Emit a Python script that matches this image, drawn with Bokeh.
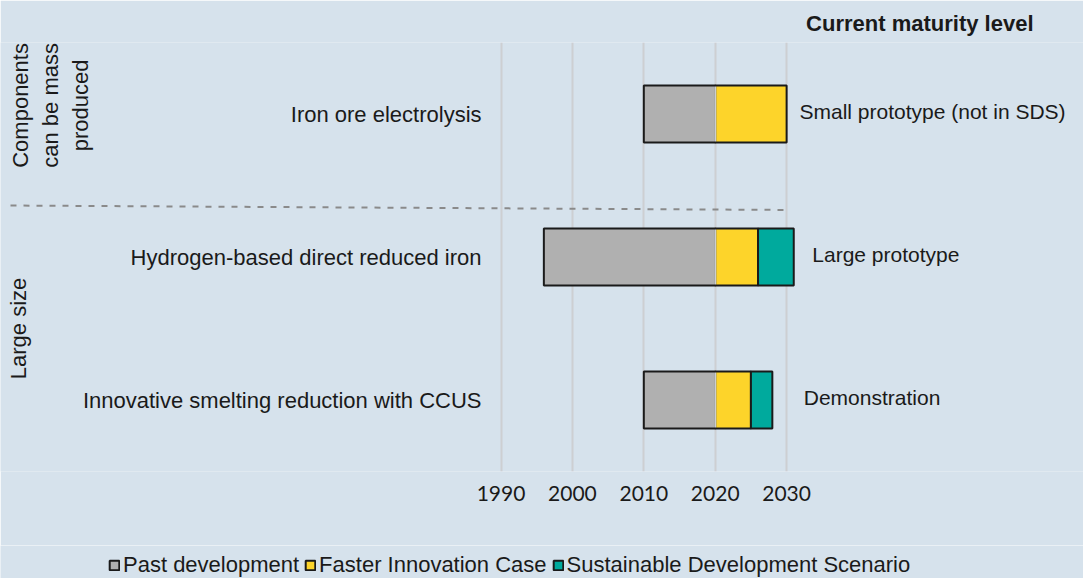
import math
from bokeh.plotting import figure
from bokeh.layouts import column
from bokeh.models import Range1d, FixedTicker, Legend, LegendItem, ColumnDataSource
from bokeh.core.properties import value
from bokeh.embed import file_html
from bokeh.resources import INLINE

# ---------------- data ----------------
technologies = ["Iron ore electrolysis",
                "Hydrogen-based direct reduced iron",
                "Innovative smelting reduction with CCUS"]
maturity = ["Small  prototype (not in SDS)", "Large prototype", "Demonstration"]
past_start = [2010, 1996, 2010]
past_end = [2020, 2020, 2020]
fic_end = [2030, 2026, 2025]
sds_end = [None, 2031, 2028]
year_ticks = [1990, 2000, 2010, 2020, 2030]
group_labels = ["Components\ncan be mass\nproduced", "Large size"]
series_names = ["Past development", "Faster Innovation Case", "Sustainable Development Scenario"]
title_text = "Current maturity level"

# ---------------- style ----------------
BG = "#d6e2ec"
GRID = "#cdcfd2"
GRAY = "#b0b0b0"
YELLOW = "#fdd42a"
TEAL = "#00aa9d"
EDGE = "#1a1a1a"
TXT = "#1a1a1a"
FONT = "Liberation Sans"

W = 1083
H_MAIN, H_LEG = 545, 33
X_MIN, X_MAX = 1919.90, 2071.58
p = figure(width=W, height=H_MAIN, output_backend="svg", toolbar_location=None,
           x_range=Range1d(X_MIN, X_MAX), y_range=Range1d(-0.5, 2.5),
           min_border_left=0, min_border_right=0, min_border_top=42,
           min_border_bottom=74, y_axis_location=None)
p.background_fill_color = BG
p.border_fill_color = BG
p.outline_line_color = None

p.title.text = title_text
p.title.align = "right"
p.title.offset = 50
p.title.standoff = 13
p.title.text_font = FONT
p.title.text_font_size = "22px"
p.title.text_font_style = "bold"
p.title.text_color = TXT

p.ygrid.visible = False
p.xgrid.ticker = FixedTicker(ticks=year_ticks)
p.xgrid.grid_line_color = GRID
p.xgrid.grid_line_width = 2

ax = p.xaxis[0]
ax.ticker = FixedTicker(ticks=year_ticks)
ax.axis_line_color = None
ax.major_tick_line_color = None
ax.minor_tick_line_color = None
ax.major_tick_out = 0
ax.major_tick_in = 0
ax.major_label_standoff = 14
ax.major_label_text_font = "Lato"
ax.major_label_text_font_size = "21px"
ax.major_label_text_color = TXT

n = len(technologies)
ypos = list(range(n))[::-1]
BAR_H = 0.4

src = ColumnDataSource(dict(y=ypos, past_start=past_start, past_end=past_end, fic_end=fic_end))
idx = [i for i in range(n) if sds_end[i] is not None]
src_sds = ColumnDataSource(dict(y=[ypos[i] for i in idx],
                                left=[fic_end[i] for i in idx],
                                right=[sds_end[i] for i in idx]))
bar_styles = dict(line_color=EDGE, line_width=2)


def draw_bars(fig, visible=True):
    r1 = fig.hbar(y="y", left="past_start", right="past_end", height=BAR_H, source=src,
                  fill_color=GRAY, visible=visible, **bar_styles)
    r2 = fig.hbar(y="y", left="past_end", right="fic_end", height=BAR_H, source=src,
                  fill_color=YELLOW, visible=visible, **bar_styles)
    r3 = fig.hbar(y="y", left="left", right="right", height=BAR_H, source=src_sds,
                  fill_color=TEAL, visible=visible, **bar_styles)
    return [r1, r2, r3]


draw_bars(p)

# 2020 gridline visible through the bars
p.segment(x0=past_end, y0=[y - BAR_H / 2 + 0.008 for y in ypos],
          x1=past_end, y1=[y + BAR_H / 2 - 0.008 for y in ypos],
          line_color=GRID, line_width=2)

# category labels
p.text(x=1987.27, y=ypos, text=technologies, text_align="right", text_baseline="middle",
       text_font=value(FONT), text_font_size="22px", text_color=TXT)

# maturity labels
mat_x = [2031.8, 2033.6, 2032.4]
p.text(x=mat_x, y=ypos, text=maturity, text_align="left", text_baseline="middle",
       y_offset=-3, text_font=value(FONT), text_font_size="21px", text_color=TXT)

# group labels (rotated)
p.text(x=[1926.9, 1922.4], y=[2.06, 0.5], text=group_labels, angle=math.pi / 2,
       text_align="center", text_baseline="middle", text_line_height=1.2,
       text_font=value(FONT), text_font_size="22px", text_color=TXT)

# dashed separator
p.line(x=[1921.3, year_ticks[-1]], y=[1.36, 1.329], line_color="#8a8a8a",
       line_width=2, line_dash="6 7")

# ---------------- legend strip ----------------
# hidden copies of the bar renderers; only their legend entries are shown
pl = figure(width=W, height=H_LEG, output_backend="svg", toolbar_location=None,
            x_range=Range1d(X_MIN, X_MAX), y_range=Range1d(8, 9),
            min_border=0, x_axis_location=None, y_axis_location=None)
pl.background_fill_color = BG
pl.border_fill_color = BG
pl.outline_line_color = None
pl.grid.visible = False
leg_renderers = draw_bars(pl, visible=False)
legend = Legend(items=[LegendItem(label=s, renderers=[r])
                       for s, r in zip(series_names, leg_renderers)],
                orientation="horizontal", location=(108, 0),
                glyph_width=12, glyph_height=12, label_standoff=3, spacing=5,
                padding=0, margin=0, click_policy="none",
                label_text_font=FONT, label_text_font_size="22px", label_text_color=TXT,
                background_fill_alpha=0, border_line_alpha=0)
pl.add_layout(legend)

layout = column(p, pl, spacing=0)
html = file_html(layout, INLINE)
html = html.replace("<body>", '<body style="background-color:%s;">' % BG, 1)
open("out.html", "w").write(html)
